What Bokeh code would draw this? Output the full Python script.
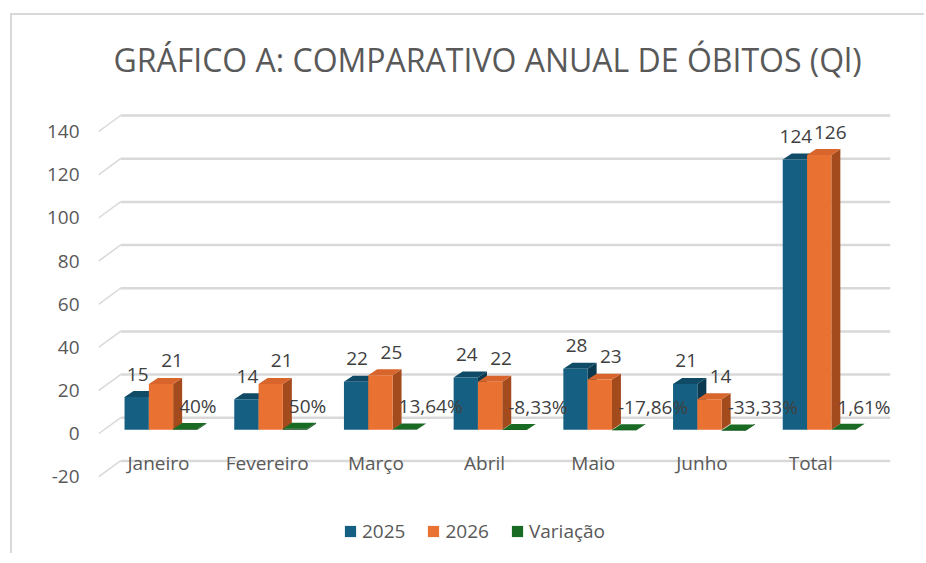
import numpy as np
from bokeh.plotting import figure
from bokeh.models import Range1d, LinearAxis, FixedTicker, Legend, LegendItem
from bokeh.embed import file_html
from bokeh.resources import INLINE
from bokeh.core.properties import value

# ---------------- data ----------------
categories = ["Janeiro", "Fevereiro", "Março", "Abril", "Maio", "Junho", "Total"]
s2025 = [15, 14, 22, 24, 28, 21, 124]
s2026 = [21, 21, 25, 22, 23, 14, 126]
variacao = [0.40, 0.50, 0.1364, -0.0833, -0.1786, -0.3333, 0.0161]
y_ticks = [-20, 0, 20, 40, 60, 80, 100, 120, 140]
series_names = ["2025", "2026", "Variação"]
title_text = "GRÁFICO A: COMPARATIVO ANUAL DE ÓBITOS (Ql)"

# ---------------- style ----------------
FONT = "Open Sans"
TXT = "#595959"
LBL = "#404040"
GRID = "#d9d9d9"
FS = "19px"
colors = {
    "2025": dict(front="#156082", top="#0f4a66", side="#0b3a50"),
    "2026": dict(front="#e97132", top="#d8652b", side="#a44b1d"),
    "Variação": dict(front="#0f4a17", top="#196b24", side="#0d3d13"),
}

FRAME_W, FRAME_H = 792, 445
x_range = Range1d(-0.5697, 6.650)          # bars (mid depth)
xr_lab = Range1d(-0.552, 6.734)            # category labels (front floor)
y_range = Range1d(-53.09, 150.57)          # bars
yr_front = Range1d(-51.79, 153.99)         # axis labels (front wall)
yr_back = Range1d(-59.15, 146.49)          # back wall gridlines

px_x = FRAME_W / (x_range.end - x_range.start)
px_y = FRAME_H / (y_range.end - y_range.start)
DX = 9 / px_x      # 3-D depth offset
DY = 6 / px_y
W = 24.3 / px_x    # bar width
WALL = 22 / px_x   # back wall offset

p = figure(width=914, height=540, x_range=x_range, y_range=y_range,
           output_backend="svg", toolbar_location=None,
           x_axis_location=None, y_axis_location=None,
           min_border_left=86, min_border_right=36, min_border_top=85, min_border_bottom=10)
p.extra_x_ranges = {"labx": xr_lab}
p.extra_y_ranges = {"front": yr_front, "back": yr_back}
p.outline_line_color = None
p.xgrid.visible = False
p.ygrid.visible = False
p.background_fill_color = "white"
p.border_fill_color = "white"
p.styles = {"border-left": "2px solid #d9d9d9", "border-top": "2px solid #d9d9d9",
            "margin-left": "10px", "margin-top": "13px"}

# title
p.title.text = title_text
p.title.align = "left"
p.title.text_font = FONT
p.title.text_font_size = "32px"
p.title.text_font_style = "normal"
p.title.text_color = TXT
p.title.offset = 15
p.title.standoff = 41

# y axis (front wall)
yax = LinearAxis(y_range_name="front", ticker=FixedTicker(ticks=y_ticks))
yax.axis_line_color = None
yax.major_tick_line_color = None
yax.minor_tick_line_color = None
yax.major_label_standoff = 13
yax.major_label_overrides = {t: str(t) for t in y_ticks}
yax.major_label_text_font = FONT
yax.major_label_text_font_size = FS
yax.major_label_text_color = TXT
p.add_layout(yax, "left")

# gridlines: back wall + slanted side wall
def same_screen(val, src, dst):
    f = (val - src.start) / (src.end - src.start)
    return dst.start + f * (dst.end - dst.start)

gx0 = [x_range.start + WALL] * len(y_ticks)
gx1 = [x_range.end] * len(y_ticks)
p.segment(x0=gx0, y0=y_ticks, x1=gx1, y1=y_ticks, y_range_name="back",
          line_color=GRID, line_width=2.5)
p.segment(x0=[x_range.start] * len(y_ticks),
          y0=[same_screen(t, yr_front, yr_back) for t in y_ticks],
          x1=gx0, y1=y_ticks, y_range_name="back", line_color=GRID, line_width=1.5)

# 3-D bars
idx = np.arange(len(categories))
series = [("2025", s2025), ("2026", s2026), ("Variação", variacao)]
legend_refs = {}
for k, (name, vals) in enumerate(series):
    xc = idx + (k - 1) * W
    v = np.array(vals, dtype=float)
    l = xc - W / 2
    r = xc + W / 2
    c = colors[name]
    side_xs = [[ri, ri, ri + DX, ri + DX] for ri in r]
    side_ys = [[0, vi, vi + DY, DY] for vi in v]
    top_xs = [[li, ri, ri + DX, li + DX] for li, ri in zip(l, r)]
    top_ys = [[vi, vi, vi + DY, vi + DY] for vi in v]
    p.patches(side_xs, side_ys, fill_color=c["side"], line_color=None)
    top = p.patches(top_xs, top_ys, fill_color=c["top"], line_color=None)
    front = p.quad(left=l, right=r, bottom=np.zeros_like(v), top=v,
                   fill_color=c["front"], line_color=None)
    legend_refs[name] = top if name == "Variação" else front

# data labels
def fmt_pct(x):
    s = f"{x * 100:.2f}".rstrip("0").rstrip(".")
    return s.replace(".", ",") + "%"

for k, (name, vals) in enumerate(series):
    xc = idx + (k - 1) * W
    v = np.array(vals, dtype=float)
    if name == "Variação":
        texts = [fmt_pct(x) for x in vals]
        p.text(x=xc - W / 2, y=v + DY, text=texts, text_align="left", text_baseline="middle",
               x_offset=6, y_offset=-17, text_font=value(FONT), text_font_size=FS, text_color=LBL)
    else:
        texts = [str(x) for x in vals]
        p.text(x=xc, y=v + DY, text=texts, text_align="center", text_baseline="middle",
               x_offset=1 if k == 0 else 11, y_offset=-17,
               text_font=value(FONT), text_font_size=FS, text_color=LBL)

# category labels on floor line
p.text(x=idx, y=[min(y_ticks)] * len(categories), text=categories,
       x_range_name="labx", y_range_name="back",
       text_align="center", text_baseline="middle", y_offset=2,
       text_font=value(FONT), text_font_size=FS, text_color=TXT)

legend = Legend(items=[LegendItem(label=n, renderers=[legend_refs[n]]) for n in series_names],
                location=(245, 1), orientation="horizontal",
                glyph_width=14, glyph_height=14, label_standoff=5, spacing=21,
                padding=0, margin=0, border_line_alpha=0, background_fill_alpha=0,
                label_text_font=FONT, label_text_font_size=FS, label_text_color=TXT)
p.add_layout(legend)

open("out.html", "w").write(file_html(p, INLINE))
